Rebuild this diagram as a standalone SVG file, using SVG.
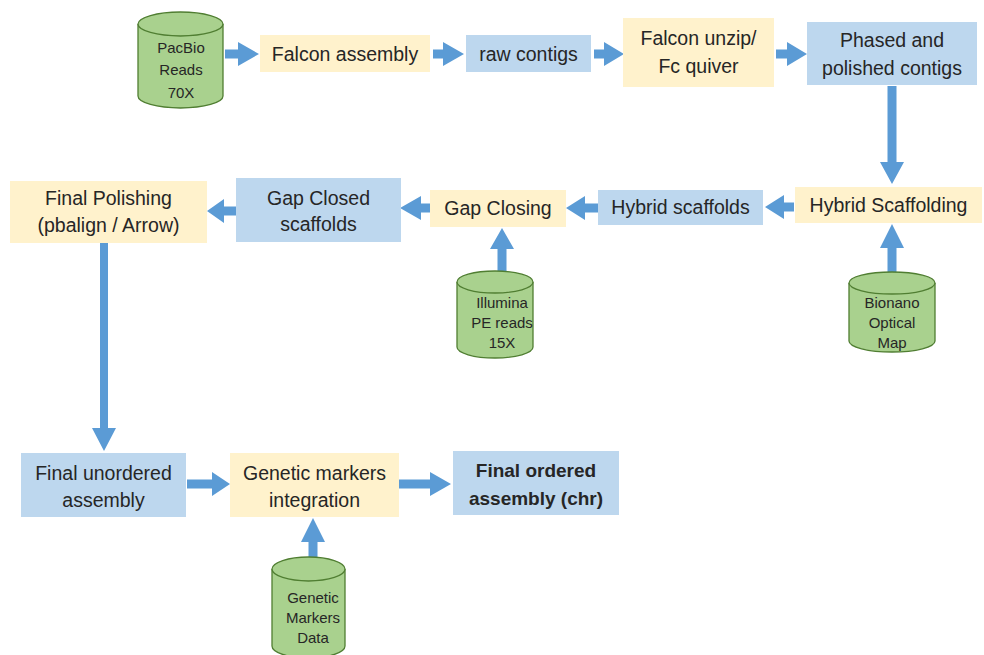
<svg xmlns="http://www.w3.org/2000/svg" width="984" height="655" viewBox="0 0 984 655">
<style>
.bg{fill:#ffffff}
.y{fill:#FFF2CC}
.b{fill:#BDD7EE}
.cyl{fill:#A9D18E;stroke:#507E32;stroke-width:1.3}
.arrow{fill:#5B9BD5}
text{font-family:"Liberation Sans",Arial,sans-serif;fill:#262626;text-anchor:middle}
.t{font-size:19.5px}
.tb{font-size:19px;font-weight:bold}
.c{font-size:15px}
</style>
<rect class="bg" x="0" y="0" width="984" height="655"/>
<g id="connectors">
<path class="arrow" d="M225,49.5H238V42L259,54L238,66V58.5H225Z"/>
<path class="arrow" d="M433,49.5H443V42L464,54L443,66V58.5H433Z"/>
<path class="arrow" d="M594,49.5H604V42L624,54L604,66V58.5H594Z"/>
<path class="arrow" d="M776,49.5H787V42L807,54L787,66V58.5H776Z"/>
<path class="arrow" d="M887.5,86V162H880L892,184L904,162H896.5V86Z"/>
<path class="arrow" d="M794,202.5H784V195L765,207L784,219V211.5H794Z"/>
<path class="arrow" d="M598,203.5H585V196L566,208L585,220V212.5H598Z"/>
<path class="arrow" d="M430,203.5H421V196L400,208L421,220V212.5H430Z"/>
<path class="arrow" d="M236,206.5H224V199L207,211L224,223V215.5H236Z"/>
<path class="arrow" d="M100,243V428H92L104,451L116,428H108V243Z"/>
<path class="arrow" d="M187,479.5H212V472L230,484L212,496V488.5H187Z"/>
<path class="arrow" d="M399,479.5H430V472L451,484L430,496V488.5H399Z"/>
<path class="arrow" d="M497.5,271V249H490L502,228L514,249H506.5V271Z"/>
<path class="arrow" d="M887.5,272V248H880L892,224L904,248H896.5V272Z"/>
<path class="arrow" d="M308.5,557V542H301L313,518L325,542H317.5V557Z"/>
</g>
<g id="pacbio">
<path class="cyl" d="M138,24V96A42.5,12 0 0 0 223,96V24"/>
<ellipse class="cyl" cx="180.5" cy="24" rx="42.5" ry="12"/>
<text class="c" x="181" y="53">PacBio</text>
<text class="c" x="181" y="75">Reads</text>
<text class="c" x="181" y="98">70X</text>
</g>
<g id="falcon-assembly">
<rect class="y" x="260" y="35" width="170" height="37"/>
<text class="t" x="345" y="61">Falcon assembly</text>
</g>
<g id="raw-contigs">
<rect class="b" x="466" y="35" width="125" height="37"/>
<text class="t" x="528.5" y="61">raw contigs</text>
</g>
<g id="falcon-unzip">
<rect class="y" x="623" y="18" width="151" height="69"/>
<text class="t" x="698.5" y="45">Falcon unzip/</text>
<text class="t" x="698.5" y="73">Fc quiver</text>
</g>
<g id="phased">
<rect class="b" x="807" y="22" width="170" height="63"/>
<text class="t" x="892" y="47">Phased and</text>
<text class="t" x="892" y="75">polished contigs</text>
</g>
<g id="hybrid-scaffolding">
<rect class="y" x="795" y="187" width="187" height="36"/>
<text class="t" x="888.5" y="212">Hybrid Scaffolding</text>
</g>
<g id="hybrid-scaffolds">
<rect class="b" x="598" y="190" width="165" height="35"/>
<text class="t" x="680.5" y="214">Hybrid scaffolds</text>
</g>
<g id="gap-closing">
<rect class="y" x="430" y="190" width="136" height="37"/>
<text class="t" x="498" y="215">Gap Closing</text>
</g>
<g id="gap-closed">
<rect class="b" x="236" y="178" width="165" height="64"/>
<text class="t" x="318.5" y="205">Gap Closed</text>
<text class="t" x="318.5" y="231">scaffolds</text>
</g>
<g id="final-polishing">
<rect class="y" x="10" y="181" width="197" height="62"/>
<text class="t" x="108.5" y="205">Final Polishing</text>
<text class="t" x="108.5" y="232">(pbalign / Arrow)</text>
</g>
<g id="illumina">
<path class="cyl" d="M457,282V347A38,11 0 0 0 533,347V282"/>
<ellipse class="cyl" cx="495" cy="282" rx="38" ry="11"/>
<text class="c" x="502" y="308">Illumina</text>
<text class="c" x="502" y="328">PE reads</text>
<text class="c" x="502" y="348">15X</text>
</g>
<g id="bionano">
<path class="cyl" d="M849,283V341A43,11 0 0 0 935,341V283"/>
<ellipse class="cyl" cx="892" cy="283" rx="43" ry="11"/>
<text class="c" x="892" y="308">Bionano</text>
<text class="c" x="892" y="328">Optical</text>
<text class="c" x="892" y="348">Map</text>
</g>
<g id="final-unordered">
<rect class="b" x="21" y="453" width="165" height="64"/>
<text class="t" x="103.5" y="480">Final unordered</text>
<text class="t" x="103.5" y="507">assembly</text>
</g>
<g id="genetic-markers-integration">
<rect class="y" x="230" y="453" width="169" height="64"/>
<text class="t" x="314.5" y="480">Genetic markers</text>
<text class="t" x="314.5" y="507">integration</text>
</g>
<g id="final-ordered">
<rect class="b" x="453" y="451" width="166" height="64"/>
<text class="tb" x="536" y="477">Final ordered</text>
<text class="tb" x="536" y="505">assembly (chr)</text>
</g>
<g id="genetic-markers-data">
<path class="cyl" d="M272,569V646A36.5,12 0 0 0 345,646V569"/>
<ellipse class="cyl" cx="308.5" cy="569" rx="36.5" ry="12"/>
<text class="c" x="313" y="603">Genetic</text>
<text class="c" x="313" y="623">Markers</text>
<text class="c" x="313" y="643">Data</text>
</g>
</svg>
